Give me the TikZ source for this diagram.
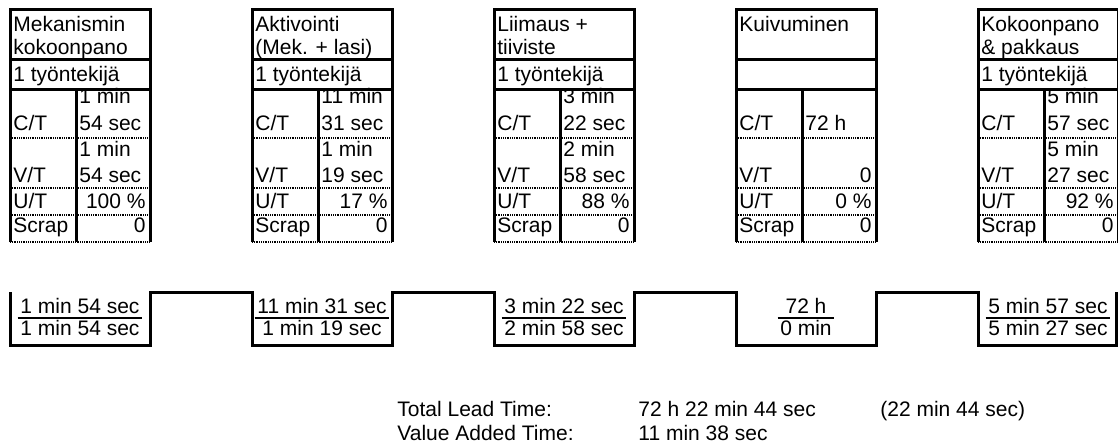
\documentclass[tikz,border=0pt]{standalone}
\usepackage{fontspec}
\setmainfont{Liberation Sans}

\begin{document}
\begin{tikzpicture}[x=0.5pt, y=-0.5pt,
  every node/.style={inner sep=0pt, font=\fontsize{10.5}{12}\selectfont},
  lbl/.style={anchor=base west},
  val/.style={anchor=base east},
  num/.style={anchor=base, inner xsep=1.2pt},
  frame/.style={line width=1.5pt},
  dots/.style={line width=0.9pt, dash pattern=on 0.45pt off 0.45pt},
  wave/.style={line width=1.5pt, line join=miter},
  bar/.style={line width=0.6pt}
]
\useasboundingbox (0,0) rectangle (1118,444);

% process boxes
\foreach \x in {10,252,494,736,978} {
  \draw[frame] (\x,242) -- (\x,10) -- (\x+140,10) -- (\x+140,242);
  \draw[frame] (\x,60) -- (\x+140,60) (\x,90) -- (\x+140,90);
  \draw[frame] (\x+66,90) -- (\x+66,242);
  \foreach \y in {138,188,215,242} \draw[dots] (\x,\y) -- (\x+140,\y);
}

% Mekanismin kokoonpano
\node[lbl] (p1a) at (13,32) {Mekanismin};
\node[lbl] (p1b) at (13,55) {kokoonpano};
\node[lbl] (p1w) at (13,82) {1 työntekijä};
\node[lbl] (p1ct) at (13,130) {C/T};
\node[lbl] (p1cta) at (79,104) {1 min};
\node[lbl] (p1ctb) at (79,130) {54 sec};
\node[lbl] (p1vt) at (13,182) {V/T};
\node[lbl] (p1vta) at (79,156) {1 min};
\node[lbl] (p1vtb) at (79,182) {54 sec};
\node[lbl] (p1ut) at (13,208) {U/T};
\node[val] (p1utv) at (146,208) {100 \%};
\node[lbl] (p1s) at (13,232) {Scrap};
\node[val] (p1sv) at (146,232) {0};

% Aktivointi
\node[lbl] (p2a) at (255,32) {Aktivointi};
\node[lbl] (p2b) at (255,55) {(Mek. + lasi)};
\node[lbl] (p2w) at (255,82) {1 työntekijä};
\node[lbl] (p2ct) at (255,130) {C/T};
\node[lbl] (p2cta) at (321,104) {11 min};
\node[lbl] (p2ctb) at (321,130) {31 sec};
\node[lbl] (p2vt) at (255,182) {V/T};
\node[lbl] (p2vta) at (321,156) {1 min};
\node[lbl] (p2vtb) at (321,182) {19 sec};
\node[lbl] (p2ut) at (255,208) {U/T};
\node[val] (p2utv) at (388,208) {17 \%};
\node[lbl] (p2s) at (255,232) {Scrap};
\node[val] (p2sv) at (388,232) {0};

% Liimaus + tiiviste
\node[lbl] (p3a) at (497,32) {Liimaus +};
\node[lbl] (p3b) at (497,55) {tiiviste};
\node[lbl] (p3w) at (497,82) {1 työntekijä};
\node[lbl] (p3ct) at (497,130) {C/T};
\node[lbl] (p3cta) at (563,104) {3 min};
\node[lbl] (p3ctb) at (563,130) {22 sec};
\node[lbl] (p3vt) at (497,182) {V/T};
\node[lbl] (p3vta) at (563,156) {2 min};
\node[lbl] (p3vtb) at (563,182) {58 sec};
\node[lbl] (p3ut) at (497,208) {U/T};
\node[val] (p3utv) at (630,208) {88 \%};
\node[lbl] (p3s) at (497,232) {Scrap};
\node[val] (p3sv) at (630,232) {0};

% Kuivuminen
\node[lbl] (p4a) at (739,32) {Kuivuminen};
\node[lbl] (p4ct) at (739,130) {C/T};
\node[lbl] (p4ctv) at (805,130) {72 h};
\node[lbl] (p4vt) at (739,182) {V/T};
\node[val] (p4vtv) at (872,182) {0};
\node[lbl] (p4ut) at (739,208) {U/T};
\node[val] (p4utv) at (872,208) {0 \%};
\node[lbl] (p4s) at (739,232) {Scrap};
\node[val] (p4sv) at (872,232) {0};

% Kokoonpano & pakkaus
\node[lbl] (p5a) at (981,32) {Kokoonpano};
\node[lbl] (p5b) at (981,55) {\& pakkaus};
\node[lbl] (p5w) at (981,82) {1 työntekijä};
\node[lbl] (p5ct) at (981,130) {C/T};
\node[lbl] (p5cta) at (1047,104) {5 min};
\node[lbl] (p5ctb) at (1047,130) {57 sec};
\node[lbl] (p5vt) at (981,182) {V/T};
\node[lbl] (p5vta) at (1047,156) {5 min};
\node[lbl] (p5vtb) at (1047,182) {27 sec};
\node[lbl] (p5ut) at (981,208) {U/T};
\node[val] (p5utv) at (1114,208) {92 \%};
\node[lbl] (p5s) at (981,232) {Scrap};
\node[val] (p5sv) at (1114,232) {0};

% time line
\draw[wave] (10,292) -- (10,345) -- (150,345) -- (150,292) -- (252,292) -- (252,345)
  -- (392,345) -- (392,292) -- (494,292) -- (494,345) -- (634,345) -- (634,292)
  -- (736,292) -- (736,345) -- (876,345) -- (876,292) -- (978,292) -- (978,345)
  -- (1116,345) -- (1116,292);

\node[num] (n1) at (80,313) {1 min 54 sec};
\node[num] (d1) at (80,335) {1 min 54 sec};
\draw[bar] ([yshift=-2.5pt]n1.base west) -- ([yshift=-2.5pt]n1.base east);
\node[num] (n2) at (322,313) {11 min 31 sec};
\node[num] (d2) at (322,335) {1 min 19 sec};
\draw[bar] ([yshift=-2.5pt]n2.base west) -- ([yshift=-2.5pt]n2.base east);
\node[num] (n3) at (564,313) {3 min 22 sec};
\node[num] (d3) at (564,335) {2 min 58 sec};
\draw[bar] ([yshift=-2.5pt]n3.base west) -- ([yshift=-2.5pt]n3.base east);
\node[num] (n4) at (806,313) {72 h};
\node[num] (d4) at (806,335) {0 min};
\draw[bar] ([yshift=8.5pt]d4.base west) -- ([yshift=8.5pt]d4.base east);
\node[num] (n5) at (1048,313) {5 min 57 sec};
\node[num] (d5) at (1048,335) {5 min 27 sec};
\draw[bar] ([yshift=-2.5pt]n5.base west) -- ([yshift=-2.5pt]n5.base east);

% totals
\node[lbl] (ltl) at (397,416) {Total Lead Time:};
\node[lbl] (ltv) at (638,416) {72 h 22 min 44 sec};
\node[lbl] (ltn) at (880,416) {(22 min 44 sec)};
\node[lbl] (vatl) at (397,440) {Value Added Time:};
\node[lbl] (vatv) at (638,440) {11 min 38 sec};

\end{tikzpicture}
\end{document}
